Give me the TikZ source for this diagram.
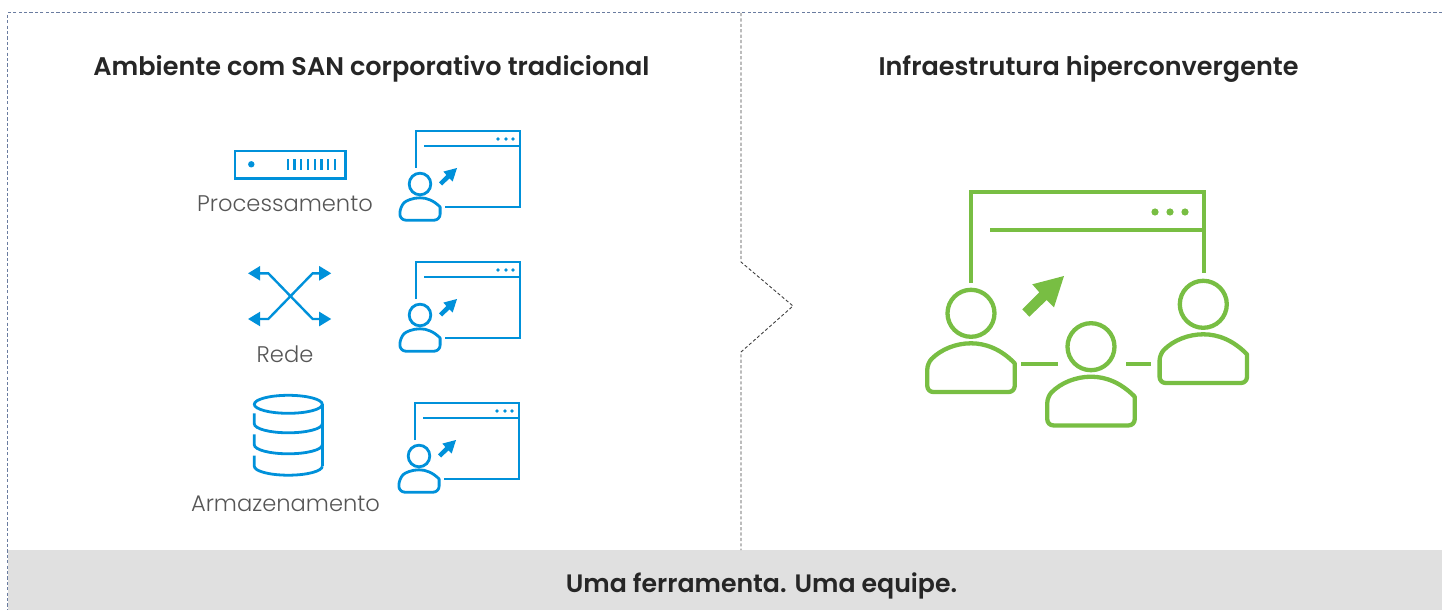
\documentclass[tikz,border=0pt]{standalone}
\usepackage{xcolor}
\usepackage{fontspec}
\usetikzlibrary{arrows.meta}
\setmainfont{Poppins}
\newfontfamily\titlefont{Poppins}[UprightFont=* SemiBold]
\newfontfamily\labelfont{Poppins}[UprightFont=* Light]
\definecolor{iconblue}{HTML}{0091DA}
\definecolor{icongreen}{HTML}{78BE43}
\definecolor{labelgray}{HTML}{565656}
\definecolor{bandgray}{HTML}{E0E0E0}
\definecolor{framegray}{HTML}{6A7CA0}
\tikzstyle{heading} = [font=\titlefont\fontsize{12.75}{14}\selectfont, text=black!85, inner sep=0pt, anchor=base]
\tikzstyle{bandheading} = [heading, font=\titlefont\fontsize{12.6}{14}\selectfont]
\tikzstyle{caption} = [font=\labelfont\fontsize{11.3}{13}\selectfont, text=labelgray, inner sep=0pt, anchor=base]
\tikzstyle{frame} = [framegray, line width=0.5pt, dash pattern=on 1.6pt off 1.1pt]
\tikzstyle{divider} = [black!75, line width=0.45pt, dash pattern=on 1.6pt off 1.1pt]
\tikzstyle{blueline} = [iconblue, line width=1.4pt]
\tikzstyle{greenline} = [icongreen, line width=2.15pt]
\tikzstyle{switchline} = [blueline, line width=1.2pt, Triangle-Triangle]
\tikzset{
	pics/usericon/.style={code={
		\draw (0,0) circle[radius=23.5];
		\draw[line join=round] (-43.7,50) .. controls (-30,36) and (-15,30) .. (0,30) .. controls (15,30) and (30,36) .. (43.7,50) [rounded corners=3pt] -- (43.7,78.7) -- (-43.7,78.7) -- cycle;
	}},
	pics/tipicon/.style={code={
		\fill (0,0) -- (-10,31.3) -- (-17.3,24) -- (-34.7,40.7) -- (-41.7,33.3) -- (-24.7,16.3) -- (-31.7,8.3) -- cycle;
	}},
	pics/adminicon/.style={code={
		\pic[scale=0.46] at (0,0) {usericon};
		\pic[scale=0.43, fill=iconblue] at (37,-16) {tipicon};
		\draw (-4,-16) -- (-4,-53) -- (100,-53) -- (100,23) -- (25,23);
		\draw (4,-38) -- (100,-38);
		\foreach \dotx in {78,86,93}
			\fill (\dotx,-45) circle[radius=1.9];
	}}
}
\begin{document}
\begin{tikzpicture}[x=0.5pt,y=-0.5pt]
	\useasboundingbox (0,0) rectangle (1442,610);
	\fill[bandgray] (8,550) rectangle (1442,610);
	\draw[frame] (1442,13) -- (7.5,13) -- (7.5,610);
	\draw[divider] (741,13) -- (741,262) -- (793,306) -- (741,352) -- (741,550);

	\node (titleleft) [heading] at (371.5,76) {Ambiente com SAN corporativo tradicional};
	\node (titleright) [heading] at (1088.5,76) {Infraestrutura hiperconvergente};
	\node (bandtext) [bandheading] at (761.5,592) {Uma ferramenta. Uma equipe.};
	\node (proclabel) [caption] at (285,212) {Processamento};
	\node (netlabel) [caption] at (285,362) {Rede};
	\node (storelabel) [caption] at (285.5,511) {Armazenamento};

	\draw[blueline] (235,151) rectangle (345.7,178.7);
	\fill[iconblue] (251.3,164.3) circle[radius=3.2];
	\foreach \tickx in {0,...,7}
		\draw[blueline, line width=1.2pt] (287.7+6.75*\tickx,159.3) -- (287.7+6.75*\tickx,170);

	\draw[switchline] (248,273.3) -- (268.3,273.3) -- (312.7,319) -- (331.3,319);
	\draw[switchline] (248,319) -- (268.3,319) -- (312.7,273.3) -- (331.3,273.3);

	\draw[blueline] (288.3,404.3) ellipse[x radius=34, y radius=9];
	\draw[blueline] (322.3,404.3) -- (322.3,466);
	\foreach \rowy in {413.3,434.3,455.7}
		\draw[blueline] (254.3,\rowy) -- (254.3,\rowy+10.5) arc[start angle=180, end angle=0, x radius=34, y radius=9];

	\pic[blueline] at (420,184) {adminicon};
	\pic[blueline] at (420,315) {adminicon};
	\pic[blueline] at (419,456) {adminicon};

	\draw[greenline] (971.3,282.7) -- (971.3,192.3) -- (1203.7,192.3) -- (1203.7,272.7);
	\draw[greenline] (990,229.7) -- (1203.7,229.7);
	\foreach \dotx in {1155,1170,1185}
		\fill[icongreen] (\dotx,212) circle[radius=3.6];
	\pic[fill=icongreen] at (1064,276) {tipicon};
	\pic[greenline] at (971,313.3) {usericon};
	\pic[greenline] at (1091,346.7) {usericon};
	\pic[greenline] at (1203.3,304.3) {usericon};
	\draw[greenline] (1021,364.3) -- (1058,364.3);
	\draw[greenline] (1126,364.3) -- (1150.7,364.3);
\end{tikzpicture}
\end{document}
